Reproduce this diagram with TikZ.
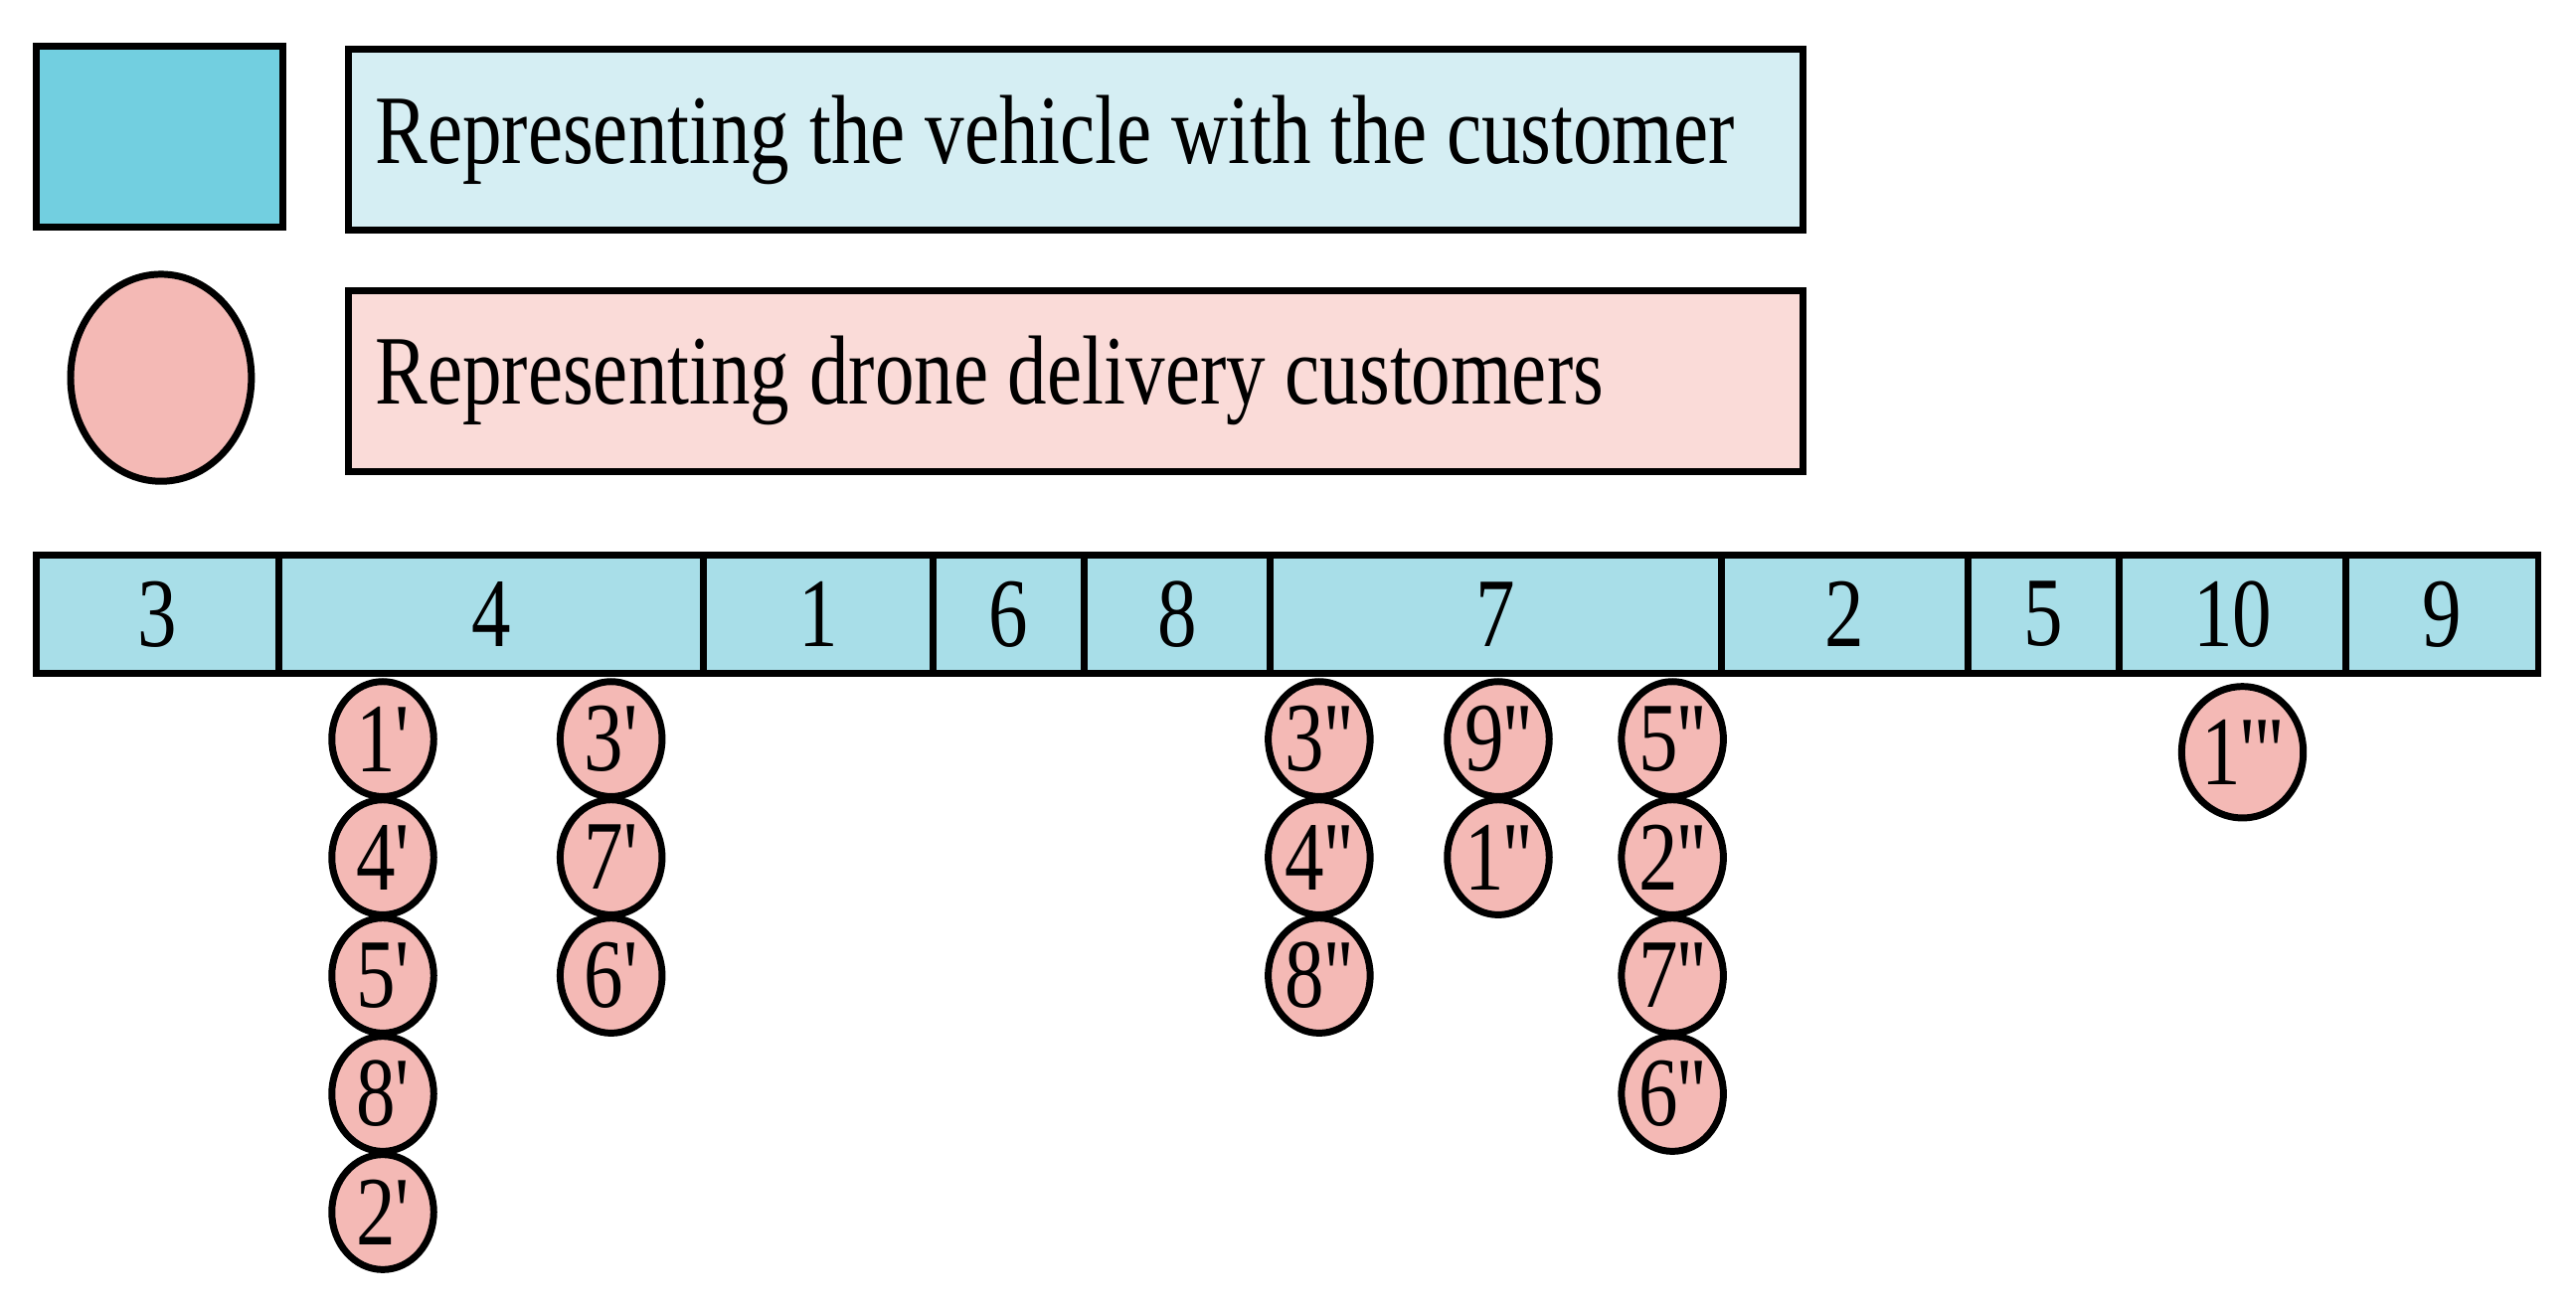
\documentclass[tikz,border=0pt]{standalone}
\usepackage{fontspec}
\setmainfont{Liberation Serif}[Ligatures=TeXOff]
\usetikzlibrary{positioning, shapes.geometric}
\tikzset{
    car/.style={draw, line width=1.2pt, fill=cellcyan},
    drone/.style={draw, ellipse, line width=1.2pt, fill=dronepink, minimum width=0.62cm, minimum height=0.70cm, inner sep=0pt},
    label/.style={font=\fontsize{17}{20}\selectfont}
}
\definecolor{legcyan}{HTML}{72CFE0}
\definecolor{cellcyan}{HTML}{A8DEE8}
\definecolor{boxcyan}{HTML}{D5EEF3}
\definecolor{dronepink}{HTML}{F4B9B5}
\definecolor{boxpink}{HTML}{FADBD8}
\newcommand{\nar}[1]{\scalebox{0.8}[1]{#1}}

\begin{document}
\begin{tikzpicture}[x=0.01cm, y=-0.01cm]
    \useasboundingbox (0,0) rectangle (1568,796);
    % Legend
    \draw[line width=1.2pt, fill=legcyan] (22,28) rectangle (172,138);
    \node[draw, line width=1.2pt, fill=boxcyan, minimum width=8.85cm, minimum height=1.1cm, anchor=north west] (vbox) at (210,28) {};
    \node[label, anchor=west] (vtext) at (216,85) {\nar{Representing the vehicle with the customer}};
    \node[drone, minimum width=1.1cm, minimum height=1.26cm] (dleg) at (98,230) {};
    \node[draw, line width=1.2pt, fill=boxpink, minimum width=8.85cm, minimum height=1.1cm, anchor=north west] (dbox) at (210,175) {};
    \node[label, anchor=west] (dtext) at (216,232) {\nar{Representing drone delivery customers}};
    % Vehicle route
    \foreach \a/\b/\n in {22/170/3, 170/428/4, 428/568/1, 568/660/6, 660/773/8, 773/1048/7, 1048/1198/2, 1198/1290/5, 1290/1428/10, 1428/1545/9}{
        \draw[car] (\a,338) rectangle (\b,410);
        \node[label] (c\n) at ({(\a+\b)/2},374) {\nar{\n}};
    }
    % Drone customers
    \foreach \i/\t in {0/1', 1/4', 2/5', 3/8', 4/2'}
        \node[drone, label] (a\i) at (233,{450+72*\i}) {\nar{\t}};
    \foreach \i/\t in {0/3', 1/7', 2/6'}
        \node[drone, label] (b\i) at (372,{450+72*\i}) {\nar{\t}};
    \foreach \i/\t in {0/3'', 1/4'', 2/8''}
        \node[drone, label] (d\i) at (803,{450+72*\i}) {\nar{\t}};
    \foreach \i/\t in {0/9'', 1/1''}
        \node[drone, label] (e\i) at (912,{450+72*\i}) {\nar{\t}};
    \foreach \i/\t in {0/5'', 1/2'', 2/7'', 3/6''}
        \node[drone, label] (f\i) at (1018,{450+72*\i}) {\nar{\t}};
    \node[drone, label, minimum width=0.74cm, minimum height=0.80cm] (g0) at (1365,458) {\nar{1'''}};
\end{tikzpicture}
\end{document}
